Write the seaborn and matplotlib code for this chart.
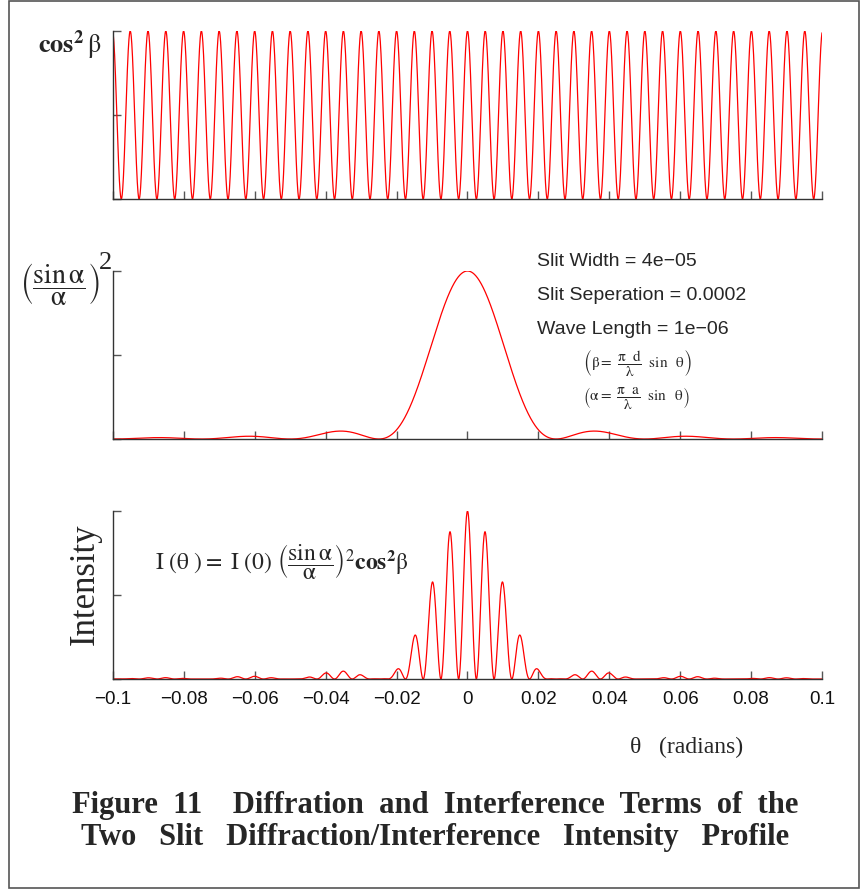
import numpy as np
import pandas as pd
import matplotlib
matplotlib.use("Agg")
import matplotlib.pyplot as plt
from matplotlib.patches import Rectangle
import seaborn as sns

# ---- parameters shown on the chart ----
slit_width = 4e-05
slit_separation = 0.0002
wave_length = 1e-06
theta_min, theta_max = -0.1, 0.1
x_ticks = [-0.1, -0.08, -0.06, -0.04, -0.02, 0, 0.02, 0.04, 0.06, 0.08, 0.1]
x_ticklabels = ["\u22120.1", "\u22120.08", "\u22120.06", "\u22120.04", "\u22120.02", "0",
                "0.02", "0.04", "0.06", "0.08", "0.1"]
y_ticks = [0, 0.5, 1]

# ---- curves ----
theta = np.linspace(theta_min, theta_max, 4001)
beta = np.pi * slit_separation / wave_length * np.sin(theta)
alpha = np.pi * slit_width / wave_length * np.sin(theta)
interference = np.cos(beta) ** 2
diffraction = np.sinc(alpha / np.pi) ** 2
intensity = diffraction * interference

df = pd.DataFrame({"theta": theta, "cos2": interference,
                   "sinc2": diffraction, "intensity": intensity})

sns.set_style("white")
plt.rcParams["mathtext.fontset"] = "stix"
plt.rcParams["font.family"] = ["Liberation Sans", "DejaVu Sans"]

fig = plt.figure(figsize=(8.62, 8.90), dpi=100)

left, width, height = 113 / 862, 709 / 862, 168 / 890
bottoms = [1 - 199 / 890, 1 - 439 / 890, 1 - 679 / 890]
cols = ["cos2", "sinc2", "intensity"]

axes = []
for b, col in zip(bottoms, cols):
    ax = fig.add_axes([left, b, width, height])
    sns.lineplot(data=df, x="theta", y=col, ax=ax, color="#ff0000", linewidth=0.9)
    ax.set_xlim(theta_min, theta_max)
    ax.set_ylim(0, 1)
    ax.set_xticks(x_ticks)
    ax.set_yticks(y_ticks)
    ax.set_xlabel("")
    ax.set_ylabel("")
    ax.set_yticklabels([])
    for s in ["top", "right"]:
        ax.spines[s].set_visible(False)
    for s in ["left", "bottom"]:
        ax.spines[s].set_color("#333333")
        ax.spines[s].set_linewidth(1.0)
    ax.tick_params(bottom=True, left=True, direction="in", length=6, width=1.0,
                   color="#555555")
    axes.append(ax)

axes[0].set_xticklabels([])
axes[1].set_xticklabels([])
axes[2].set_xticklabels(x_ticklabels, fontsize=13.5, color="#111111")
axes[2].tick_params(axis="x", pad=9)

serif = ["Liberation Serif", "DejaVu Serif"]

# panel labels
fig.text(0.044, 0.949, r"$\mathbf{cos^{2}}\,\mathrm{\beta}$", fontsize=19,
         va="center", ha="left")
fig.text(0.069, 0.681, r"$\left(\dfrac{\sin\mathrm{\alpha}}{\mathrm{\alpha}}\right)$",
         fontsize=20, va="center", ha="center")
fig.text(0.122, 0.705, "2", fontsize=19, va="center", ha="center", family=serif)
fig.text(0.099, 0.344, "Intensity", fontsize=25, rotation=90, va="center", ha="center",
         family=serif)
fig.text(0.18, 0.369,
         r"$\mathrm{I}\ (\mathrm{\theta}\ ) =\ \mathrm{I}\ (0)\ "
         r"\left(\dfrac{\sin\mathrm{\alpha}}{\mathrm{\alpha}}\right)^{2}"
         r"\mathbf{cos^{2}}\mathrm{\beta}$",
         fontsize=17, va="center", ha="left")

# parameter text
fig.text(537 / 862, 1 - 262 / 890, "Slit Width = 4e\u221205", fontsize=14, va="center")
fig.text(537 / 862, 1 - 295 / 890, "Slit Seperation = 0.0002", fontsize=14, va="center")
fig.text(537 / 862, 1 - 329 / 890, "Wave Length = 1e\u221206", fontsize=14, va="center")
fig.text(583 / 862, 1 - 363 / 890,
         r"$\left(\mathrm{\beta} =\ \dfrac{\mathrm{\pi}\ \ \mathrm{d}}{\mathrm{\lambda}}\ \ "
         r"\sin\ \ \mathrm{\theta}\right)$",
         fontsize=11, va="center")
fig.text(583 / 862, 1 - 398 / 890,
         r"$\left(\mathrm{\alpha} =\ \dfrac{\mathrm{\pi}\ \ \mathrm{a}}{\mathrm{\lambda}}\ \ "
         r"\sin\ \ \mathrm{\theta}\right)$",
         fontsize=11, va="center")

# x label
fig.text(630 / 862, 1 - 747 / 890, "\u03b8   (radians)", fontsize=17, va="center",
         ha="left", family=serif)

# caption
fig.text(0.505, 1 - 806 / 890,
         "Figure  11    Diffration  and  Interference  Terms  of  the",
         fontsize=22, weight="bold", ha="center", va="center", family=serif)
fig.text(0.505, 1 - 838 / 890,
         "Two   Slit   Diffraction/Interference   Intensity   Profile",
         fontsize=22, weight="bold", ha="center", va="center", family=serif)

# outer frame
fig.patches.append(Rectangle((9 / 862, 2 / 890), 850 / 862, 887 / 890,
                             transform=fig.transFigure, fill=False,
                             edgecolor="#555555", linewidth=1.2))

fig.savefig("out.png", dpi=100)
